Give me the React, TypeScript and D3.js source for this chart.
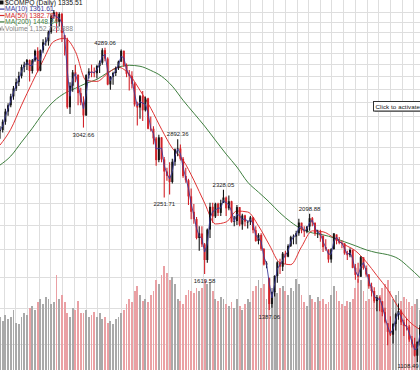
import React, { useEffect } from 'react';
import * as d3 from 'd3';

const W = 420;
const H = 370;

// Weekly data (Fridays from 1999-10-22), NASDAQ Composite
const weekClose = [
  3010, 3120, 3260, 3350, 3480, 3600, 3700, 3800, 3950, 3990,
  4069, 3882, 4064, 4235, 3887, 4244, 4395, 4411, 4590, 4914,
  5000, 4798, 4963, 4573, 4446, 3321, 3643, 3860, 3817, 3529,
  3390, 3205, 3813, 3874, 3860, 3845, 3966, 4023, 4246, 4095,
  3663, 3787, 3849, 3930, 4042, 4234, 3979, 3835, 3803, 3673,
  3361, 3317, 3483, 3278, 3451, 3028, 3027, 2904, 2645, 2917,
  2653, 2518, 2471, 2407, 2626, 2770, 2781, 2660, 2470, 2425,
  2262, 2117, 2052, 1891, 1928, 1840, 1720, 1961, 2163, 2075,
  2192, 2107, 2198, 2251, 2149, 2215, 2028, 2034, 2160, 2004,
  2084, 2029, 2029, 2066, 1956, 1867, 1916, 1805, 1687, 1695,
  1423, 1499, 1605, 1703, 1671, 1768, 1745, 1828, 1898, 1903,
  1930, 2021, 1953, 1945, 1987, 2059, 2022, 1930, 1938, 1911,
  1818, 1805, 1724, 1802, 1929, 1868, 1852, 1845, 1770, 1756,
  1796, 1663, 1613, 1600, 1741, 1662, 1616, 1536, 1505, 1441,
  1463, 1448, 1374, 1319, 1262, 1247, 1306, 1362, 1380, 1315,
  1295, 1291, 1221, 1199, 1139, 1210, 1287,
];

const weekHigh = [
  3060, 3150, 3300, 3380, 3520, 3640, 3760, 3870, 3990, 4040,
  4090, 4080, 4090, 4260, 4300, 4260, 4450, 4490, 4620, 4950,
  5048.62, 5010, 5000, 4990, 4530, 4480, 3700, 3900, 3990, 3830,
  3610, 3480, 3830, 3930, 3990, 3940, 3990, 4060, 4280, 4289.06,
  4120, 3800, 3870, 3960, 4060, 4260, 4240, 4010, 3900, 3880,
  3700, 3400, 3500, 3560, 3480, 3460, 3190, 3060, 2920, 2950,
  2920, 2680, 2560, 2620, 2660, 2780, 2892.36, 2830, 2680, 2560,
  2440, 2340, 2190, 2070, 1990, 1990, 1850, 1970, 2200, 2200,
  2200, 2200, 2230, 2328.05, 2260, 2270, 2220, 2080, 2180, 2160,
  2100, 2090, 2040, 2080, 2070, 1990, 1930, 1930, 1810, 1710,
  1590, 1500, 1610, 1710, 1730, 1780, 1790, 1840, 1910, 1920,
  1950, 2055, 2020, 1990, 1990, 2098.88, 2070, 2020, 1960, 1960,
  1910, 1880, 1800, 1810, 1930, 1920, 1900, 1870, 1850, 1790,
  1810, 1800, 1690, 1700, 1750, 1740, 1680, 1620, 1560, 1530,
  1480, 1470, 1440, 1400, 1310, 1350, 1310, 1370, 1426, 1390,
  1330, 1340, 1300, 1240, 1230, 1210, 1300,
];

const weekLow = [
  2900, 2980, 3080, 3200, 3320, 3430, 3560, 3640, 3760, 3860,
  3900, 3710, 3840, 4040, 3860, 3880, 4200, 4330, 4330, 4560,
  4860, 4580, 4700, 4400, 4150, 3300, 3227, 3550, 3700, 3350,
  3350, 3042.66, 3200, 3760, 3780, 3780, 3760, 3850, 3990, 4050,
  3650, 3580, 3660, 3800, 3900, 4040, 3950, 3780, 3570, 3600,
  3330, 3070, 3160, 3130, 3260, 3020, 2990, 2830, 2580, 2620,
  2620, 2251.71, 2420, 2280, 2390, 2580, 2690, 2640, 2450, 2400,
  2180, 2050, 2010, 1880, 1790, 1820, 1619.58, 1700, 1890, 2020,
  2060, 2080, 2080, 2200, 2080, 2130, 2020, 1990, 2000, 1990,
  1960, 1990, 1970, 2000, 1930, 1860, 1840, 1790, 1680, 1660,
  1387.06, 1400, 1470, 1560, 1620, 1640, 1690, 1740, 1820, 1840,
  1840, 1910, 1930, 1900, 1930, 1950, 1990, 1910, 1890, 1860,
  1780, 1790, 1700, 1700, 1800, 1840, 1840, 1810, 1760, 1720,
  1740, 1660, 1580, 1560, 1600, 1650, 1600, 1520, 1470, 1430,
  1380, 1380, 1350, 1310, 1192, 1240, 1200, 1270, 1330, 1300,
  1240, 1270, 1210, 1180, 1135, 1108.49, 1190,
];

// average daily volume per week, billions of shares
const weekVolume = [
  1.5, 1.4, 1.55, 1.45, 1.5, 1.7, 1.35, 1.3, 1.5, 1.6,
  1.55, 1.75, 1.8, 1.7, 1.9, 2.0, 1.85, 2.05, 2.0, 1.85,
  1.9, 2.65, 2.0, 2.1, 1.9, 1.6, 1.5, 1.75, 1.7, 1.95,
  1.6, 1.6, 1.7, 1.5, 1.55, 1.65, 1.5, 1.6, 1.45, 1.5,
  1.35, 1.4, 1.3, 1.45, 1.5, 1.6, 1.7, 1.85, 2.0, 1.9,
  2.2, 2.35, 2.1, 1.95, 2.0, 1.9, 2.1, 2.2, 2.5, 2.4,
  2.65, 2.9, 2.7, 2.5, 2.6, 2.4, 2.0, 1.95, 1.85, 2.1,
  2.25, 2.2, 2.15, 2.3, 2.2, 2.3, 2.5, 2.4, 2.45, 2.2,
  2.0, 1.95, 2.05, 2.0, 1.85, 1.8, 1.9, 1.75, 2.0, 1.8,
  1.7, 1.85, 2.0, 1.9, 2.2, 2.35, 2.5, 2.3, 2.4, 2.0,
  2.6, 2.3, 2.2, 2.15, 2.3, 2.35, 2.2, 2.1, 2.3, 2.2,
  2.55, 2.4, 2.1, 1.9, 1.8, 2.1, 2.0, 1.9, 2.05, 1.95,
  2.0, 1.85, 1.9, 2.1, 2.35, 2.2, 1.95, 1.85, 1.8, 1.95,
  1.9, 2.0, 2.3, 2.55, 2.5, 2.2, 1.95, 2.0, 2.1, 2.2,
  2.05, 2.1, 2.3, 2.4, 2.5, 2.2, 2.0, 2.1, 2.2, 1.95,
  2.05, 2.0, 1.9, 1.8, 1.85, 2.0, 1.7,
];

// MA(50) and MA(200), read at evenly spaced points across the chart
const ma50Samples = [
  2822, 3021, 3351, 3697, 4062, 4410, 4470, 4222, 3728, 3712,
  3843, 3945, 3827, 3572, 3307, 3021, 2785, 2644, 2426, 2198,
  2009, 2026, 2124, 2115, 1993, 1837, 1700, 1686, 1821, 1950,
  1942, 1892, 1837, 1790, 1707, 1608, 1514, 1401, 1320, 1275,
];
const ma200Samples = [
  2589, 2691, 2858, 3034, 3237, 3408, 3527, 3603, 3682, 3745,
  3857, 3945, 3979, 3962, 3892, 3795, 3636, 3422, 3237, 3062,
  2882, 2714, 2567, 2405, 2304, 2208, 2107, 2026, 1966, 1933,
  1917, 1892, 1860, 1829, 1797, 1775, 1760, 1729, 1664, 1594,
];

const gridPrices = d3.range(1000, 5001, 200);

const highLabelWeeks = [39, 66, 83, 115];
const lowLabelWeeks = [31, 61, 76, 100, 155];

const legendNames = ['$COMPQ (Daily)', 'MA(10)', 'MA(50)', 'MA(200)', 'Volume'];
const legendValues = ['1335.51', '1361.61', '1382.78', '1448.34', '1,152,725,888'];
const legendColors = ['#111111', '#3c3c9c', '#d42a2a', '#3f7f3f', '#888888'];

const UP = '#141414';
const DOWN = '#d2232a';
const FONT = '"Liberation Sans", Arial, sans-serif';

export default function App() {
  useEffect(() => {
    document.body.style.margin = '0';
  }, []);

  const n = weekClose.length;
  const x = d3.scaleLinear().domain([0, n - 1]).range([0, W]);
  const y = d3.scaleLog().domain([1108.49, 5048.62]).range([362, 10]);
  const yv = d3.scaleLinear().domain([0, 3]).range([372, 262]);

  const start = new Date(1999, 9, 22);
  const weekOf = (d: Date) => (d.getTime() - start.getTime()) / (7 * 864e5);
  const months = d3.timeMonth.range(new Date(1999, 10, 1), new Date(2002, 11, 1));

  const openOf = (i: number) => (i === 0 ? weekClose[0] : weekClose[i - 1]);
  const isUp = (i: number) => weekClose[i] >= openOf(i);

  const ma10 = weekClose.map((_, i) => d3.mean(weekClose.slice(Math.max(0, i - 1), i + 1)) as number);
  const lineWeekly = d3.line<number>().x((_, i) => x(i)).y((v) => y(v));
  const sampleLine = (m: number) =>
    d3.line<number>()
      .x((_, k) => x((k * (n - 1)) / (m - 1)))
      .y((v) => y(v))
      .curve(d3.curveMonotoneX);

  const labelX = (i: number) => Math.min(x(i), W - 12);

  return (
    <div style={{ position: 'absolute', left: 0, top: 0 }}>
      <svg width={W} height={H} style={{ display: 'block', background: '#fff' }}>
        <rect x={0} y={0} width={W} height={H} fill="#ffffff" />
        {/* grid */}
        <g stroke="#dedede" strokeWidth={1} shapeRendering="crispEdges">
          {months.map((m, i) => {
            const xx = Math.round(x(weekOf(m))) + 0.5;
            return <line key={'v' + i} x1={xx} x2={xx} y1={0} y2={H} />;
          })}
          {gridPrices.map((p) => {
            const yy = Math.round(y(p)) + 0.5;
            return <line key={'h' + p} x1={0} x2={W} y1={yy} y2={yy} />;
          })}
        </g>
        {/* volume */}
        <g shapeRendering="crispEdges">
          {weekVolume.map((v, i) => (
            <rect
              key={'vol' + i}
              x={x(i) - 0.9}
              y={yv(v)}
              width={1.8}
              height={H - yv(v)}
              fill={isUp(i) ? '#a9a9a9' : '#eaa0a4'}
            />
          ))}
        </g>
        {/* moving averages 200 & 50 */}
        <path d={sampleLine(ma200Samples.length)(ma200Samples) || ''} fill="none" stroke="#3f7f3f" strokeWidth={1} />
        <path d={sampleLine(ma50Samples.length)(ma50Samples) || ''} fill="none" stroke="#e03434" strokeWidth={1} />
        {/* price bars */}
        <g>
          {weekClose.map((c, i) => {
            const hi = weekHigh[i];
            const lo = weekLow[i];
            const o = Math.min(Math.max(openOf(i), lo), hi);
            const col = isUp(i) ? UP : DOWN;
            const top = y(Math.max(o, c));
            const bot = y(Math.min(o, c));
            return (
              <g key={'b' + i}>
                <line x1={x(i)} x2={x(i)} y1={y(hi)} y2={y(lo)} stroke={col} strokeWidth={1.1} />
                <rect x={x(i) - 1} y={top} width={2} height={Math.max(0.8, bot - top)} fill={col} />
              </g>
            );
          })}
        </g>
        {/* MA(10) */}
        <path d={lineWeekly(ma10) || ''} fill="none" stroke="#3c3c9c" strokeWidth={0.9} />
        {/* peak / trough annotations */}
        <g fontFamily={FONT} fontSize={6} fill="#222" textAnchor="middle">
          {highLabelWeeks.map((i) => (
            <text key={'hl' + i} x={labelX(i)} y={y(weekHigh[i]) - 3}>
              {weekHigh[i].toFixed(2)}
            </text>
          ))}
          {lowLabelWeeks.map((i) => (
            <text key={'ll' + i} x={labelX(i)} y={Math.min(y(weekLow[i]) + 9, H - 2)}>
              {weekLow[i].toFixed(2)}
            </text>
          ))}
        </g>
        {/* legend */}
        <g fontFamily={FONT} fontSize={6.8}>
          {legendNames.map((name, r) => {
            const base = 5 + r * 6.4;
            const col = legendColors[r];
            return (
              <g key={'lg' + r}>
                {r === 0 && <rect x={0} y={base - 4.5} width={3.5} height={4} fill="#111" />}
                {r > 0 && r < 4 && <line x1={0} x2={4.5} y1={base - 2.3} y2={base - 2.3} stroke={col} strokeWidth={1.2} />}
                {r === 4 && (
                  <g fill="#999">
                    <rect x={0} y={base - 3} width={1} height={3} />
                    <rect x={1.5} y={base - 4.5} width={1} height={4.5} />
                    <rect x={3} y={base - 2} width={1} height={2} />
                  </g>
                )}
                <text x={5} y={base} fill={col}>
                  {name} <tspan fill={r === 0 ? '#111' : col}>{legendValues[r]}</tspan>
                </text>
              </g>
            );
          })}
        </g>
        {/* flash placeholder tooltip */}
        <g>
          <rect x={374.5} y={102.5} width={60} height={9.5} fill="#9a9a9a" />
          <rect x={373.5} y={101.5} width={60} height={9.5} fill="#ffffff" stroke="#333" strokeWidth={1} />
          <text x={375.5} y={109.2} fontFamily={FONT} fontSize={6.2} fill="#111" textLength={44.5}>
            Click to activate
          </text>
        </g>
      </svg>
    </div>
  );
}
